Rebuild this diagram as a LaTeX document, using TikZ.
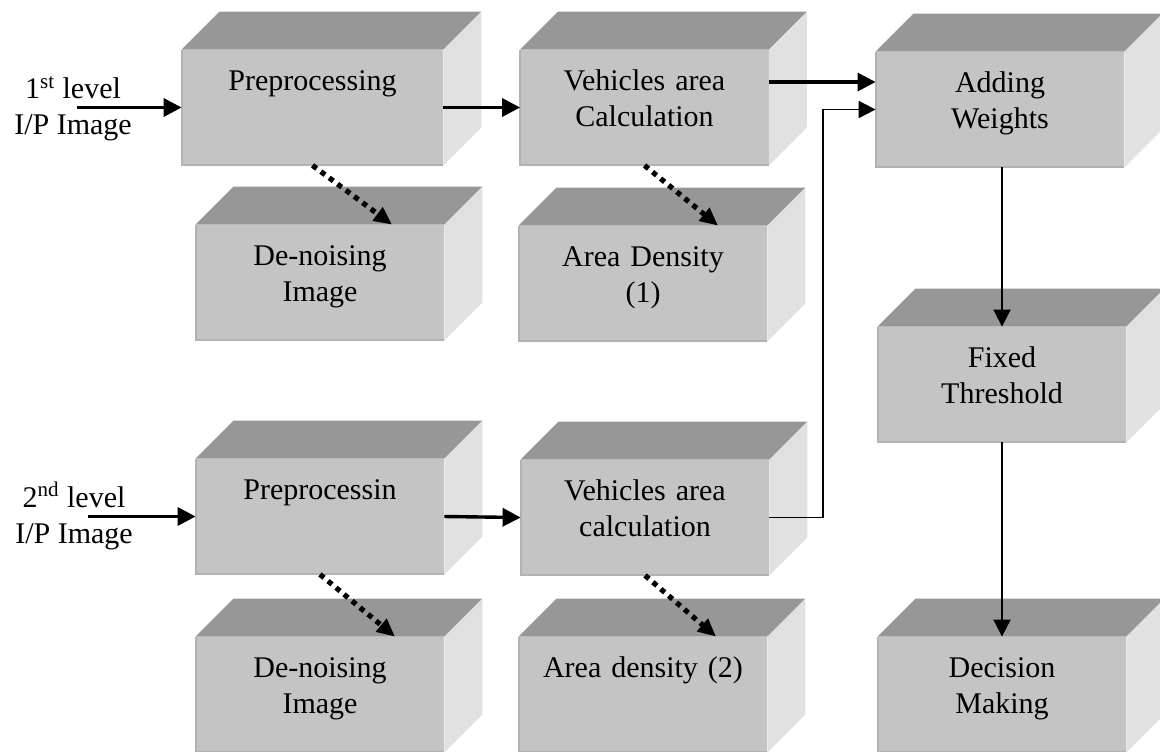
\documentclass[tikz,border=0pt]{standalone}
\usepackage{fontspec}
\setmainfont{Liberation Serif}
\usetikzlibrary{arrows.meta}
\definecolor{frontgray}{HTML}{C4C4C4}
\definecolor{topgray}{HTML}{979797}
\definecolor{sidegray}{HTML}{E1E1E1}
\definecolor{edgegray}{HTML}{B2B2B2}

\begin{document}
\begin{tikzpicture}[x=0.5pt,y=-0.5pt]
	\tikzstyle{block}=[fill=frontgray,inner sep=0pt,text width=124pt,align=center,text height=20pt,text depth=37.5pt,font=\fontsize{15}{18}\selectfont]
	\tikzstyle{inlabel}=[inner sep=0pt,align=center,font=\fontsize{15}{18}\selectfont]
	\tikzstyle{flow}=[-{Triangle[length=9pt,width=9pt]},line width=1.7pt]
	\tikzstyle{link}=[-{Triangle[length=8.5pt,width=8.5pt]},line width=0.9pt]
	\tikzstyle{spill}=[-{Triangle[length=9pt,width=8pt]},line width=2.6pt,dash pattern=on 2.6pt off 2.6pt]
	\useasboundingbox (0,0) rectangle (1160,751);
	% first level
	\node[block,text width=130.5pt](pre1) at (312.5,107.5) {Preprocessing};
	\node[block](veh1) at (644.5,107.5) {Vehicles area\\Calculation};
	\node[block](add) at (1000,109.5) {Adding\\Weights};
	\node[block](den1) at (320,282.5) {De-noising\\Image};
	\node[block](area1) at (643,283.5) {Area Density\\(1)};
	\node[block](thr) at (1002,384.5) {Fixed\\Threshold};
	% second level
	\node[block](pre2) at (320,516.5) {Preprocessin};
	\node[block](veh2) at (645,517.5) {Vehicles area\\calculation};
	\node[block](den2) at (320,694.5) {De-noising\\Image};
	\node[block](area2) at (643,694.5) {Area density (2)};
	\node[block](dec) at (1002,694.5) {Decision\\Making};
	\node[inlabel](lab1) at (73,109) {1\textsuperscript{st} level\\I/P Image};
	\node[inlabel](lab2) at (74,516) {2\textsuperscript{nd} level\\I/P Image};
	% top and side faces
	\foreach \n in {pre1,veh1,add,den1,area1,thr,pre2,veh2,den2,area2,dec}{
		\fill[topgray] (\n.north west) -- ++(38,-38) -- ([shift={(38,-38)}]\n.north east) -- (\n.north east) -- cycle;
		\fill[sidegray] (\n.north east) -- ++(38,-38) -- ([shift={(38,-38)}]\n.south east) -- (\n.south east) -- cycle;
		\draw[edgegray,line width=1pt] (\n.north west) -- (\n.south west) -- (\n.south east);
	}
	\coordinate (in1) at (77,107.5);
	\coordinate (in2) at (88,516.5);
	\coordinate (riser) at (823,0);
	\draw[flow](in1) -- (pre1.west);
	\draw[flow](in2) -- (pre2.west);
	\draw[flow](pre1.east) -- (veh1.west);
	\draw[flow](pre2.east) -- (veh2.west);
	\draw[flow]([yshift=12.75pt]veh1.east) -- ([yshift=12.75pt]veh1.east -| add.west);
	\draw[link](veh2.east) -| (riser |- add.west) -- (add.west);
	\draw[link](add.south -| thr.north) -- (thr.north);
	\draw[link](thr.south) -- (dec.north);
	\draw[spill](pre1.south) -- ([xshift=36pt]den1.north);
	\draw[spill](veh1.south) -- ([xshift=37.5pt]area1.north);
	\draw[spill](pre2.south) -- ([xshift=37.5pt]den2.north);
	\draw[spill](veh2.south) -- ([xshift=36.5pt]area2.north);
\end{tikzpicture}
\end{document}
